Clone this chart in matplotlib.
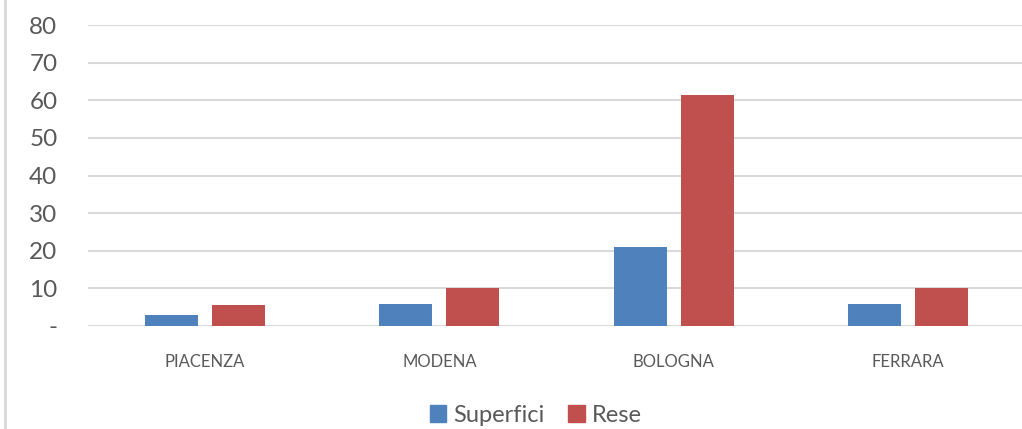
import matplotlib
matplotlib.use("Agg")
import matplotlib.pyplot as plt
import numpy as np
from matplotlib.lines import Line2D
from matplotlib.patches import Patch

categories = ["PIACENZA", "MODENA", "BOLOGNA", "FERRARA"]
superfici = [2.9, 5.9, 20.9, 5.9]
rese = [5.6, 10.1, 61.4, 10.1]
yticks = [0, 10, 20, 30, 40, 50, 60, 70, 80]
ytick_labels = ["-", "10", "20", "30", "40", "50", "60", "70", "80"]

blue = "#4F81BD"
red = "#C0504D"
grid = "#D9D9D9"
txt = "#595959"
font = ["Lato", "DejaVu Sans"]
plt.rcParams["font.family"] = font

fig = plt.figure(figsize=(10.22, 4.29), dpi=100)
ax = fig.add_axes([88/1022, 103/429, (1025-88)/1022, 301/429])

x = np.arange(len(categories))
w = 0.226
off = 0.143
ax.bar(x - off, superfici, w, color=blue, zorder=3, label="Superfici")
ax.bar(x + off, rese, w, color=red, zorder=3, label="Rese")

ax.set_xlim(-0.5, 3.5)
ax.set_ylim(0, 80)
ax.set_yticks(yticks)
ax.set_yticklabels(ytick_labels, fontsize=17.5, color=txt)
ax.set_xticks(x)
ax.set_xticklabels(categories, fontsize=12, color=txt)
ax.tick_params(axis="y", length=0, pad=22)
ax.tick_params(axis="x", length=0, pad=20)
ax.yaxis.grid(True, color=grid, linewidth=1.5, zorder=0)
for s in ax.spines.values():
    s.set_visible(False)

handles = [Patch(color=blue), Patch(color=red)]
fig.legend(handles, ["Superfici", "Rese"], loc="center", bbox_to_anchor=(536/1022, 1 - 415/429),
           ncol=2, frameon=False, fontsize=17, handlelength=0.7, handleheight=0.7,
           handletextpad=0.3, columnspacing=1.0, labelcolor=txt)

fig.add_artist(Line2D([5/1022, 5/1022], [0, 1], color=grid, linewidth=2, transform=fig.transFigure))

fig.savefig("out.png", dpi=100)
